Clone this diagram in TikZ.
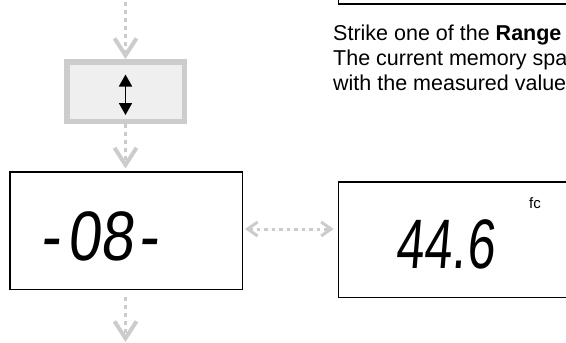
\documentclass[tikz,border=0pt]{standalone}
\usepackage{fontspec}
\setmainfont{Liberation Sans}
\newfontfamily\lcdfont[FakeSlant=0.12]{Liberation Sans}
\usetikzlibrary{arrows.meta}
\definecolor{lgray}{HTML}{CCCCCC}
\definecolor{boxfill}{HTML}{EFEFEF}
\tikzset{
  graybox/.style={draw=lgray, fill=boxfill, line width=5.5pt, inner sep=0pt,
    minimum width=117.5pt, minimum height=59.5pt},
  lcdbox/.style={draw=black, line width=1.5pt, inner sep=0pt, fill=white},
  vdot/.style={draw=lgray, line width=3.5pt, dash pattern=on 4pt off 4pt,
    -{Straight Barb[length=17pt,width=22pt,line width=4pt]}},
  hdot/.style={draw=lgray, line width=3pt, dash pattern=on 3.5pt off 4pt,
    {Straight Barb[length=10pt,width=14pt,line width=3pt]}-{Straight Barb[length=10pt,width=14pt,line width=3pt]}},
  updown/.style={line width=1.8pt, draw=black,
    {Triangle[length=12pt,width=13pt]}-{Triangle[length=12pt,width=13pt]}},
  lcd/.style={inner sep=0pt, font=\fontsize{70}{70}\selectfont\lcdfont},
  body/.style={inner sep=0pt, anchor=base west, font=\fontsize{21.5}{24.6}\selectfont}
}
\begin{document}
\begin{tikzpicture}[x=1pt,y=-1pt]
\useasboundingbox (0,0) rectangle (566,343);
\clip (0,0) rectangle (566,343);

% boxes
\node[graybox] (btn) at (125.5,91.5) {};
\node[lcdbox, minimum width=232.5pt, minimum height=117.5pt] (disp) at (126,230.5) {};
\node[lcdbox, minimum width=262.5pt, minimum height=115.5pt] (disp2) at (469.75,239.5) {};
\node[lcdbox, minimum width=262.5pt, minimum height=63pt] (topbox) at (469.75,-27.5) {};

% button icon
\draw[updown] ([yshift=17pt]btn.center) -- ([yshift=-23.5pt]btn.center);

% vertical flow arrows
\coordinate (start) at (125.5,2);
\coordinate (finish) at (125.5,342);
\draw[vdot] (start) -- (btn.north);
\draw[vdot, shorten >=2.5pt] (btn.south) -- (btn.south |- disp.north);
\draw[vdot, shorten <=7pt] (btn.south |- disp.south) -- (finish);

% horizontal double arrow
\draw[hdot] ([xshift=2pt,yshift=1.5pt]disp.east) -- ([xshift=-4pt,yshift=1.5pt]disp.east -| disp2.west);

% LCD texts
\node[lcd, anchor=base] (v1) at (99,260) {\scalebox{0.85}[1]{-\hspace{9pt}08\hspace{5pt}-}};
\node[lcd, anchor=base] (v2) at (445,268) {\scalebox{0.72}[1]{44.6}};
\node[inner sep=0pt, anchor=base west, font=\fontsize{15}{15}\selectfont] (unit) at (529,208.5) {fc};

% instruction text
\node[body] (t1) at (333,40.7) {Strike one of the \textbf{Range}};
\node[body] (t2) at (333,65.5) {The current memory spa};
\node[body] (t3) at (333,90) {with the measured value};
\end{tikzpicture}
\end{document}
